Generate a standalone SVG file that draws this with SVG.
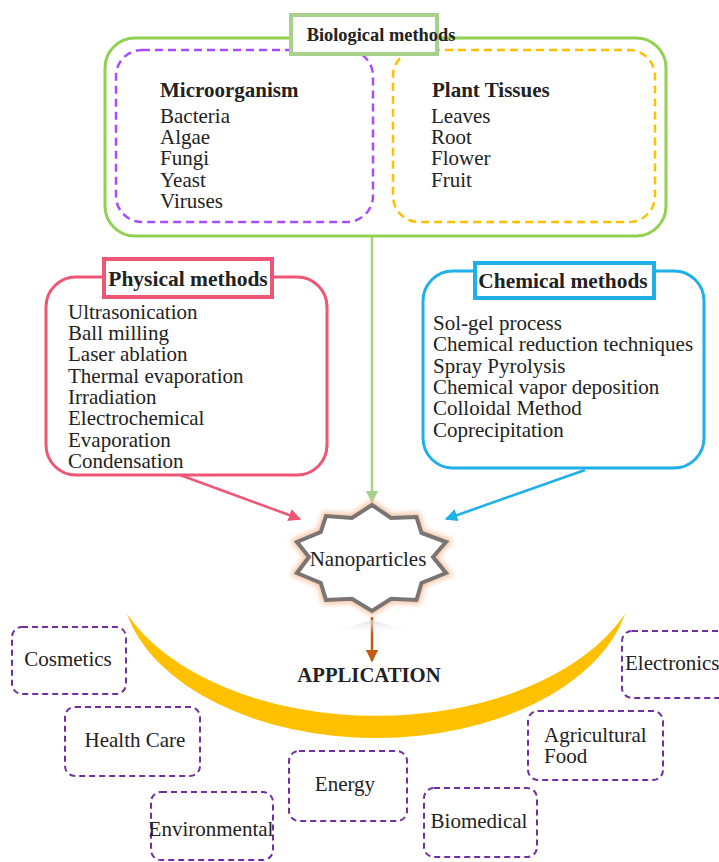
<svg xmlns="http://www.w3.org/2000/svg" width="719" height="862" viewBox="0 0 719 862">
<defs>
<style>
text{font-family:"Liberation Serif","Times New Roman",serif;fill:#222;}
.t{font-size:21px;}
.b{font-weight:bold;}
.app{fill:#fff;stroke:#7030a0;stroke-width:2;stroke-dasharray:6 4;}
</style>
<marker id="ag" viewBox="0 0 10 10" refX="9" refY="5" markerWidth="5" markerHeight="5" orient="auto"><path d="M0,0L10,5L0,10z" fill="#a9d18e"/></marker>
<marker id="ap" viewBox="0 0 10 10" refX="9" refY="5" markerWidth="5" markerHeight="5" orient="auto"><path d="M0,0L10,5L0,10z" fill="#ef5675"/></marker>
<marker id="ab" viewBox="0 0 10 10" refX="9" refY="5" markerWidth="5" markerHeight="5" orient="auto"><path d="M0,0L10,5L0,10z" fill="#1fb0ea"/></marker>
<marker id="ao" viewBox="0 0 10 10" refX="9" refY="5" markerWidth="5" markerHeight="5" orient="auto"><path d="M0,0L10,5L0,10z" fill="#c55a11"/></marker>
<filter id="glow" x="-20%" y="-20%" width="140%" height="140%"><feGaussianBlur stdDeviation="2.5"/></filter>
<linearGradient id="refl" x1="0" y1="0" x2="0" y2="1"><stop offset="0" stop-color="#d8d8d8" stop-opacity="0.8"/><stop offset="1" stop-color="#fff" stop-opacity="0"/></linearGradient>
</defs>

<g id="connectors">
<line x1="372" y1="237" x2="372" y2="502" stroke="#a9d18e" stroke-width="2.5" marker-end="url(#ag)"/>
<line x1="180" y1="475" x2="300" y2="519" stroke="#ef5675" stroke-width="2.5" marker-end="url(#ap)"/>
<line x1="585" y1="470" x2="446" y2="519" stroke="#1fb0ea" stroke-width="2.5" marker-end="url(#ab)"/>
<line x1="372" y1="617" x2="372" y2="661" stroke="#c55a11" stroke-width="2.5" marker-end="url(#ao)"/>
</g>

<g id="biological">
<rect x="105" y="38" width="561" height="198" rx="30" fill="#fff" stroke="#92d050" stroke-width="3"/>
<rect x="116" y="50" width="257" height="172" rx="26" fill="none" stroke="#a64dff" stroke-width="2.5" stroke-dasharray="8 5"/>
<rect x="393" y="50" width="262" height="172" rx="26" fill="none" stroke="#ffc000" stroke-width="2.5" stroke-dasharray="8 5"/>
<rect x="291" y="15" width="146" height="39" fill="#fff" stroke="#a9d18e" stroke-width="4"/>
<text x="381" y="41" text-anchor="middle" class="b" font-size="18.4">Biological methods</text>
<text x="160" y="97" class="b" font-size="21">Microorganism</text>
<text x="160" y="123" class="t">Bacteria</text>
<text x="160" y="144" class="t">Algae</text>
<text x="160" y="165" class="t">Fungi</text>
<text x="160" y="187" class="t">Yeast</text>
<text x="160" y="208" class="t">Viruses</text>
<text x="432" y="97" class="b" font-size="21">Plant Tissues</text>
<text x="431" y="123" class="t">Leaves</text>
<text x="431" y="144" class="t">Root</text>
<text x="431" y="165" class="t">Flower</text>
<text x="431" y="187" class="t">Fruit</text>
</g>

<g id="physical">
<rect x="46" y="277" width="281" height="198" rx="30" fill="#fff" stroke="#ef5675" stroke-width="3"/>
<rect x="104" y="259" width="168" height="38" fill="#fff" stroke="#ef5675" stroke-width="4"/>
<text x="188" y="286" text-anchor="middle" class="b" font-size="21.5">Physical methods</text>
<text x="68" y="319" class="t">Ultrasonication</text>
<text x="68" y="340" class="t">Ball milling</text>
<text x="68" y="361" class="t">Laser ablation</text>
<text x="68" y="383" class="t">Thermal evaporation</text>
<text x="68" y="404" class="t">Irradiation</text>
<text x="68" y="425" class="t">Electrochemical</text>
<text x="68" y="447" class="t">Evaporation</text>
<text x="68" y="468" class="t">Condensation</text>
</g>

<g id="chemical">
<rect x="423" y="271" width="281" height="197" rx="30" fill="#fff" stroke="#1fb0ea" stroke-width="3"/>
<rect x="475" y="263" width="179" height="35" fill="#fff" stroke="#1fb0ea" stroke-width="4"/>
<text x="563" y="288" text-anchor="middle" class="b" font-size="21.4">Chemical methods</text>
<text x="433" y="330" class="t">Sol-gel process</text>
<text x="433" y="351" class="t">Chemical reduction techniques</text>
<text x="433" y="373" class="t">Spray Pyrolysis</text>
<text x="433" y="394" class="t">Chemical vapor deposition</text>
<text x="433" y="415" class="t">Colloidal Method</text>
<text x="433" y="437" class="t">Coprecipitation</text>
</g>

<g id="nanoparticles">
<polygon points="326,634 372,620 418,634" fill="url(#refl)"/>
<polygon points="372,505 391,518 416.5,517 421.5,533 446,542 433,557 446,573 421.5,582.9 416.5,600 391,598.8 372,611 352,598.8 326,600 320.8,582.9 297,573 309,557 297,542 320.8,532 326,516 352,518" fill="none" stroke="#f4b183" stroke-opacity="0.7" stroke-width="9" filter="url(#glow)"/>
<polygon points="372,505 391,518 416.5,517 421.5,533 446,542 433,557 446,573 421.5,582.9 416.5,600 391,598.8 372,611 352,598.8 326,600 320.8,582.9 297,573 309,557 297,542 320.8,532 326,516 352,518" fill="#fff" stroke="#7a7472" stroke-width="4" stroke-linejoin="miter"/>
<text x="368" y="566" text-anchor="middle" class="t">Nanoparticles</text>
</g>

<g id="application">
<path d="M127,614 A255,158 0 0 0 625,614 A270,166 0 0 1 127,614 Z" fill="#ffc000"/>
<text x="369" y="682" text-anchor="middle" class="b" font-size="20.7">APPLICATION</text>
</g>

<g id="cosmetics"><rect class="app" x="12" y="627" width="114" height="67" rx="10"/><text x="68" y="666" text-anchor="middle" class="t">Cosmetics</text></g>
<g id="healthcare"><rect class="app" x="65" y="707" width="135" height="69" rx="10"/><text x="135" y="747" text-anchor="middle" class="t">Health Care</text></g>
<g id="environmental"><rect class="app" x="151" y="792" width="122" height="68" rx="10"/><text x="211" y="836" text-anchor="middle" class="t">Environmental</text></g>
<g id="energy"><rect class="app" x="289" y="751" width="118" height="70" rx="10"/><text x="345" y="791" text-anchor="middle" class="t">Energy</text></g>
<g id="biomedical"><rect class="app" x="424" y="788" width="113" height="69" rx="10"/><text x="479" y="828" text-anchor="middle" class="t">Biomedical</text></g>
<g id="agricultural"><rect class="app" x="528" y="711" width="135" height="69" rx="10"/><text x="544" y="742" class="t">Agricultural</text><text x="544" y="763" class="t">Food</text></g>
<g id="electronics"><rect class="app" x="622" y="631" width="110" height="67" rx="10"/><text x="625" y="670" class="t">Electronics</text></g>
</svg>
